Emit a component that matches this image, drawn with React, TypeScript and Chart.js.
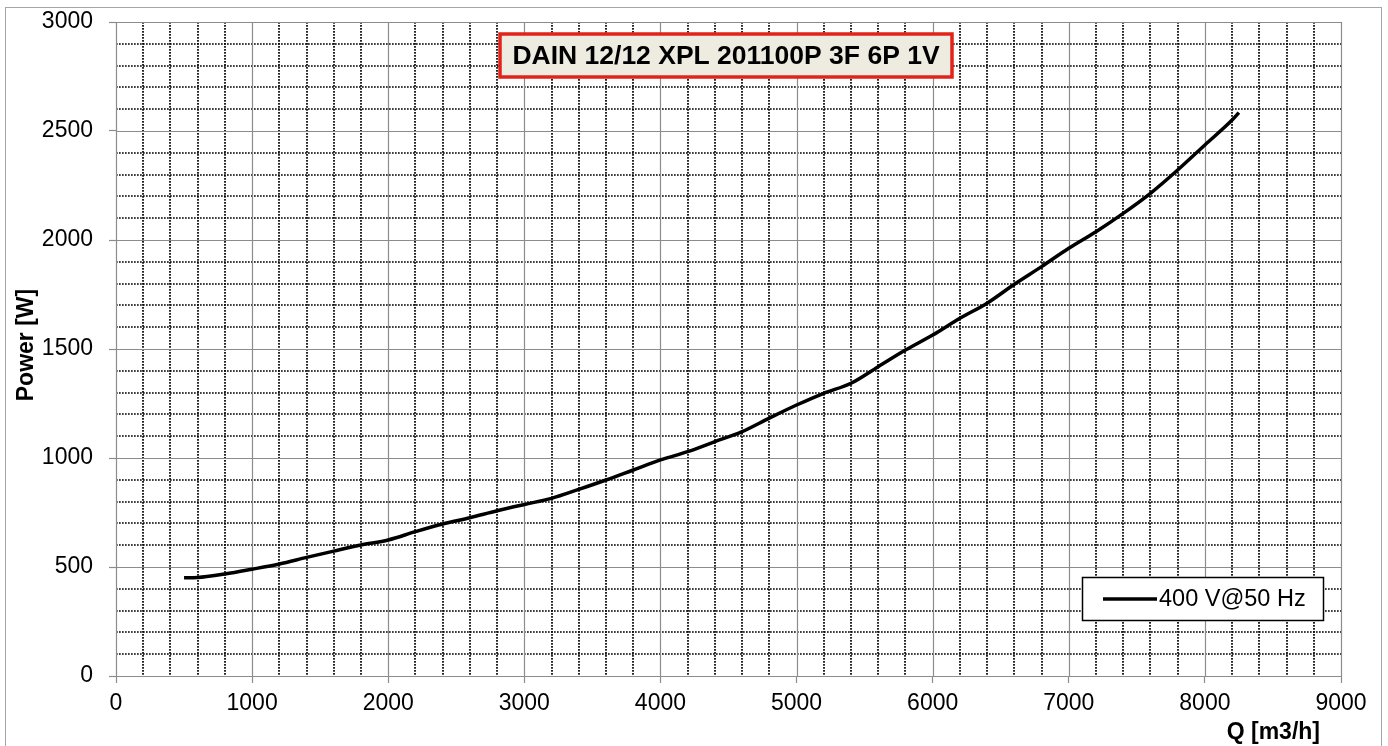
import React, { useEffect, useRef } from "react";
import { Chart, registerables } from "chart.js";

Chart.register(...registerables);

const flowQ = [500, 600, 800, 1000, 1200, 1400, 1600, 1800, 2000, 2200, 2400, 2600, 2800, 3000, 3200, 3400, 3600, 3800, 4000, 4200, 4400, 4600, 4800, 5000, 5200, 5400, 5600, 5800, 6000, 6200, 6400, 6600, 6800, 7000, 7200, 7400, 7600, 7800, 8000, 8200, 8250];
const powerW = [451, 452, 468, 490, 514, 544, 573, 601, 624, 662, 697, 726, 758, 787, 815, 856, 899, 945, 991, 1029, 1075, 1121, 1183, 1243, 1297, 1343, 1419, 1495, 1564, 1641, 1710, 1797, 1878, 1962, 2038, 2122, 2214, 2321, 2436, 2550, 2584];
const seriesLabel = "400 V@50 Hz";
const chartTitle = "DAIN 12/12 XPL 201100P 3F 6P 1V";
const xTitle = "Q [m3/h]";
const yTitle = "Power [W]";
const xRange = [0, 9000];
const yRange = [0, 3000];
const xMajor = 1000;
const xMinor = 200;
const yMajor = 500;
const yMinor = 100;

const FONT = "'Liberation Sans', Arial, sans-serif";

const decorPlugin = {
  id: "decor",
  beforeDraw(chart: any) {
    const ctx = chart.ctx;
    ctx.save();
    ctx.fillStyle = "#ffffff";
    ctx.fillRect(0, 0, chart.width, chart.height);
    ctx.strokeStyle = "#a6a6a6";
    ctx.lineWidth = 1;
    ctx.strokeRect(5.5, 7.5, 1376, 760);
    ctx.restore();
  },
  beforeDatasetsDraw(chart: any) {
    const ctx = chart.ctx;
    const xs = chart.scales.x;
    const ys = chart.scales.y;
    const a = chart.chartArea;
    ctx.save();
    // minor dotted grid
    ctx.strokeStyle = "#000000";
    ctx.lineWidth = 1.7;
    ctx.setLineDash([1.7, 1.3]);
    for (let v = xRange[0]; v <= xRange[1]; v += xMinor) {
      if (v % xMajor === 0) continue;
      const px = Math.round(xs.getPixelForValue(v));
      ctx.beginPath();
      ctx.moveTo(px, a.top);
      ctx.lineTo(px, a.bottom);
      ctx.stroke();
    }
    for (let v = yRange[0]; v <= yRange[1]; v += yMinor) {
      if (v % yMajor === 0) continue;
      const py = Math.round(ys.getPixelForValue(v));
      ctx.beginPath();
      ctx.moveTo(a.left, py);
      ctx.lineTo(a.right, py);
      ctx.stroke();
    }
    // major solid grid
    ctx.setLineDash([]);
    ctx.strokeStyle = "#8c8c8c";
    ctx.lineWidth = 1.2;
    for (let v = xRange[0]; v <= xRange[1]; v += xMajor) {
      const px = Math.round(xs.getPixelForValue(v)) + 0.5;
      ctx.beginPath();
      ctx.moveTo(px, a.top);
      ctx.lineTo(px, a.bottom);
      ctx.stroke();
    }
    for (let v = yRange[0]; v <= yRange[1]; v += yMajor) {
      const py = Math.round(ys.getPixelForValue(v)) + 0.5;
      ctx.beginPath();
      ctx.moveTo(a.left, py);
      ctx.lineTo(a.right, py);
      ctx.stroke();
    }
    ctx.restore();
  },
  afterDraw(chart: any) {
    const ctx = chart.ctx;
    ctx.save();
    // title box
    const tx = 500, ty = 34, tw = 452, th = 43;
    ctx.fillStyle = "#EEECE1";
    ctx.fillRect(tx, ty, tw, th);
    ctx.strokeStyle = "#E2231A";
    ctx.lineWidth = 3.5;
    ctx.strokeRect(tx, ty, tw, th);
    ctx.fillStyle = "#000000";
    ctx.font = `bold 26.5px ${FONT}`;
    ctx.textAlign = "center";
    ctx.textBaseline = "middle";
    ctx.fillText(chartTitle, tx + tw / 2, ty + th / 2 + 1);

    // legend
    const lx = 1082.5, ly = 577.5, lw = 241, lh = 43;
    ctx.fillStyle = "#ffffff";
    ctx.fillRect(lx, ly, lw, lh);
    ctx.strokeStyle = "#000000";
    ctx.lineWidth = 1.5;
    ctx.strokeRect(lx, ly, lw, lh);
    const ds = chart.data.datasets[0];
    ctx.strokeStyle = ds.borderColor;
    ctx.lineWidth = 3.5;
    ctx.beginPath();
    ctx.moveTo(1103, ly + lh / 2);
    ctx.lineTo(1157, ly + lh / 2);
    ctx.stroke();
    ctx.fillStyle = "#000000";
    ctx.font = `23.5px ${FONT}`;
    ctx.textAlign = "left";
    ctx.textBaseline = "middle";
    ctx.fillText(ds.label, 1159, ly + lh / 2 + 1);

    // axis titles
    ctx.font = `bold 23px ${FONT}`;
    ctx.textAlign = "right";
    ctx.textBaseline = "middle";
    ctx.fillText(xTitle, 1320, 733);
    ctx.translate(27, 345);
    ctx.rotate(-Math.PI / 2);
    ctx.textAlign = "center";
    ctx.fillText(yTitle, 0, 0);
    ctx.restore();
  },
};

export default function App() {
  const ref = useRef<HTMLCanvasElement | null>(null);
  useEffect(() => {
    if (!ref.current) return;
    const chart = new Chart(ref.current, {
      type: "line",
      data: {
        datasets: [
          {
            label: seriesLabel,
            data: flowQ.map((q, i) => ({ x: q, y: powerW[i] })),
            borderColor: "#000000",
            borderWidth: 3.5,
            pointRadius: 0,
            fill: false,
            cubicInterpolationMode: "monotone",
          },
        ],
      },
      options: {
        responsive: false,
        animation: false,
        devicePixelRatio: 1,
        layout: { padding: { left: 0, top: 22, right: 47, bottom: 0 } },
        plugins: {
          legend: { display: false },
          title: { display: false },
          tooltip: { enabled: false },
        },
        scales: {
          x: {
            type: "linear",
            min: xRange[0],
            max: xRange[1],
            afterFit: (s: any) => {
              s.height = 70;
              s.paddingLeft = 0;
              s.paddingRight = 0;
            },
            ticks: {
              stepSize: xMajor,
              color: "#000000",
              font: { family: FONT, size: 23 },
              padding: 7,
              maxRotation: 0,
              callback: (v: any) => String(v),
            },
            grid: {
              drawOnChartArea: false,
              drawTicks: true,
              tickLength: 7,
              tickColor: "#8c8c8c",
              tickWidth: 1.2,
            },
            border: { display: false },
          },
          y: {
            type: "linear",
            min: yRange[0],
            max: yRange[1],
            afterFit: (s: any) => {
              s.width = 116;
              s.paddingTop = 0;
              s.paddingBottom = 0;
            },
            ticks: {
              stepSize: yMajor,
              color: "#000000",
              font: { family: FONT, size: 23 },
              padding: 16,
              callback: (v: any) => String(v),
            },
            grid: {
              drawOnChartArea: false,
              drawTicks: true,
              tickLength: 7,
              tickColor: "#8c8c8c",
              tickWidth: 1.2,
            },
            border: { display: false },
          },
        },
      },
      plugins: [decorPlugin],
    });
    return () => chart.destroy();
  }, []);
  return (
    <div style={{ position: "absolute", left: 0, top: 0, width: 1388, height: 746, background: "#fff" }}>
      <canvas ref={ref} width={1388} height={746} style={{ display: "block", width: 1388, height: 746 }} />
    </div>
  );
}
